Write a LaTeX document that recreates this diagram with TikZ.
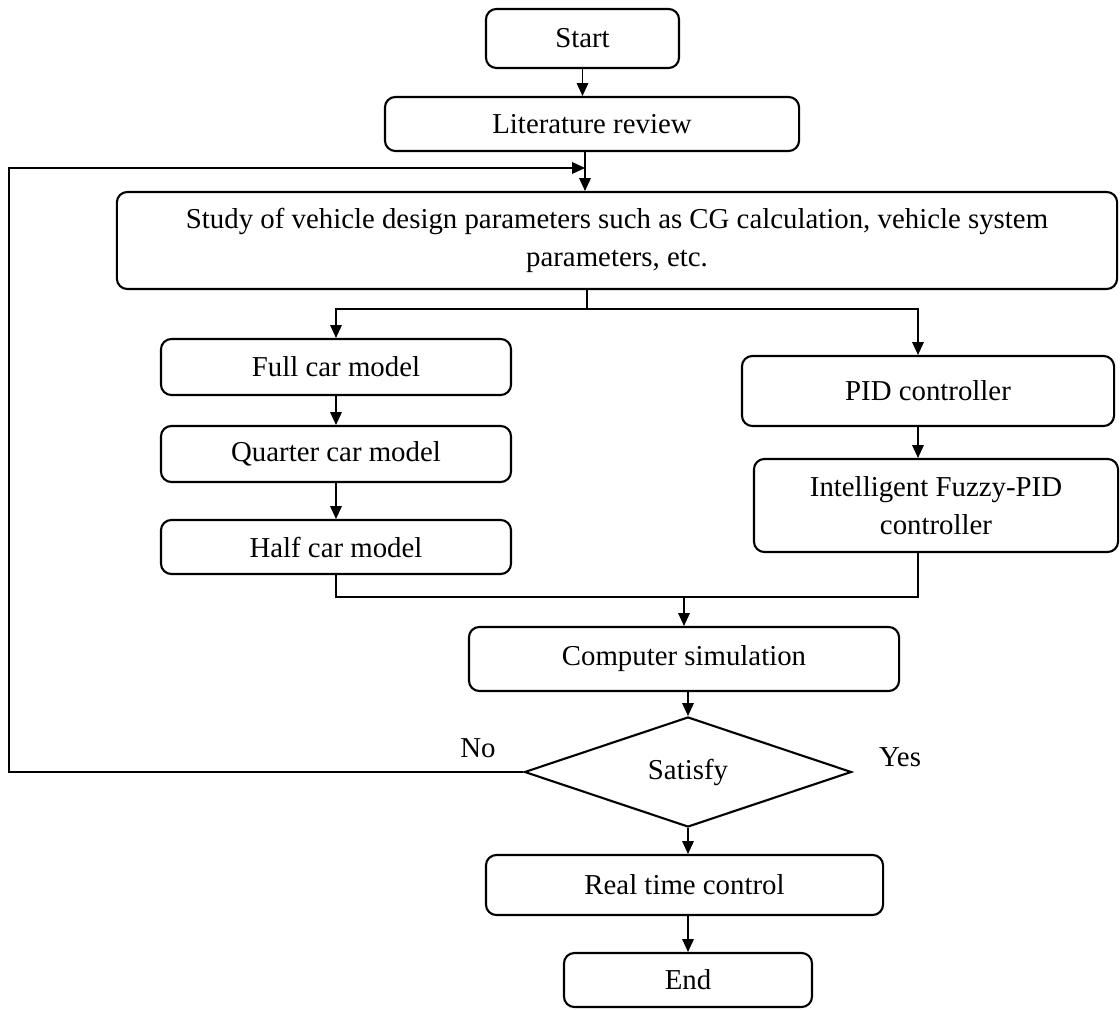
\documentclass[tikz,border=0pt]{standalone}
\usepackage{fontspec}
\setmainfont{Liberation Serif}
\usetikzlibrary{arrows.meta,shapes.geometric}

\begin{document}
\begin{tikzpicture}[x=0.025cm,y=-0.025cm,>={Triangle[length=3.2mm,width=2.9mm]},
        font=\fontsize{20.5}{27.5}\selectfont,
        box/.style={draw,line width=1.5pt,rounded corners=0.26cm,align=center,inner sep=0pt},
        decision/.style={draw,line width=1.5pt,diamond,inner sep=0pt},
        every path/.style={line width=0.8pt}]
        \useasboundingbox (0,0) rectangle (1120,1010);
        \node[box,minimum width=4.825cm,minimum height=1.475cm] (start) at (582.5,38.5) {Start};
        \node[box,minimum width=10.35cm,minimum height=1.35cm] (lit) at (592,124) {Literature review};
        \node[box,minimum width=25cm,minimum height=2.425cm] (study) at (617,240.5) {Study of vehicle design parameters such as CG calculation, vehicle system\\parameters, etc.};
        \node[box,minimum width=8.75cm,minimum height=1.4cm] (full) at (336,367) {Full car model};
        \node[box,minimum width=8.75cm,minimum height=1.4cm] (quarter) at (336,454) {Quarter car model};
        \node[box,minimum width=8.75cm,minimum height=1.35cm] (half) at (336,547) {Half car model};
        \node[box,minimum width=9.3cm,minimum height=1.75cm] (pid) at (928,391) {PID controller};
        \node[box,minimum width=9.1cm,minimum height=2.325cm] (fuzzy) at (936,505.5) {Intelligent Fuzzy-PID\\controller};
        \node[box,minimum width=10.75cm,minimum height=1.6cm] (sim) at (684,659) {Computer simulation};
        \node[decision,minimum width=8.175cm,minimum height=2.75cm] (satisfy) at (688,772) {Satisfy};
        \node[box,minimum width=9.925cm,minimum height=1.5cm] (realtime) at (684.5,885) {Real time control};
        \node[box,minimum width=6.2cm,minimum height=1.35cm] (finish) at (688,980) {End};
        \node (no) at (478,748) {No};
        \node (yes) at (900,757) {Yes};
        \coordinate (join) at (585,168);
        \coordinate (back) at (9,168);
        \coordinate (split) at (587,309);
        \coordinate (rbranch) at (918,309);
        \coordinate (merge) at (684,597);
        \draw[->] (start.south) -- (start.south |- lit.north);
        \draw[->] (lit.south -| join) -- (join |- study.north);
        \draw[->] (satisfy.west) -| (back) -- (join);
        \draw (study.south -| split) -- (split);
        \draw[->] (split) -| (full.north);
        \draw[->] (split) -- (rbranch) -- (rbranch |- pid.north);
        \draw[->] (full) -- (quarter);
        \draw[->] (quarter) -- (half);
        \draw[->] (rbranch |- pid.south) -- (rbranch |- fuzzy.north);
        \draw (half.south) |- (merge);
        \draw (rbranch |- fuzzy.south) |- (merge);
        \draw[->] (merge) -- (sim.north);
        \draw[->] (satisfy.north |- sim.south) -- (satisfy.north);
        \draw[->] (satisfy.south) -- (satisfy.south |- realtime.north);
        \draw[->] (finish.north |- realtime.south) -- (finish.north);
    \end{tikzpicture}
\end{document}
